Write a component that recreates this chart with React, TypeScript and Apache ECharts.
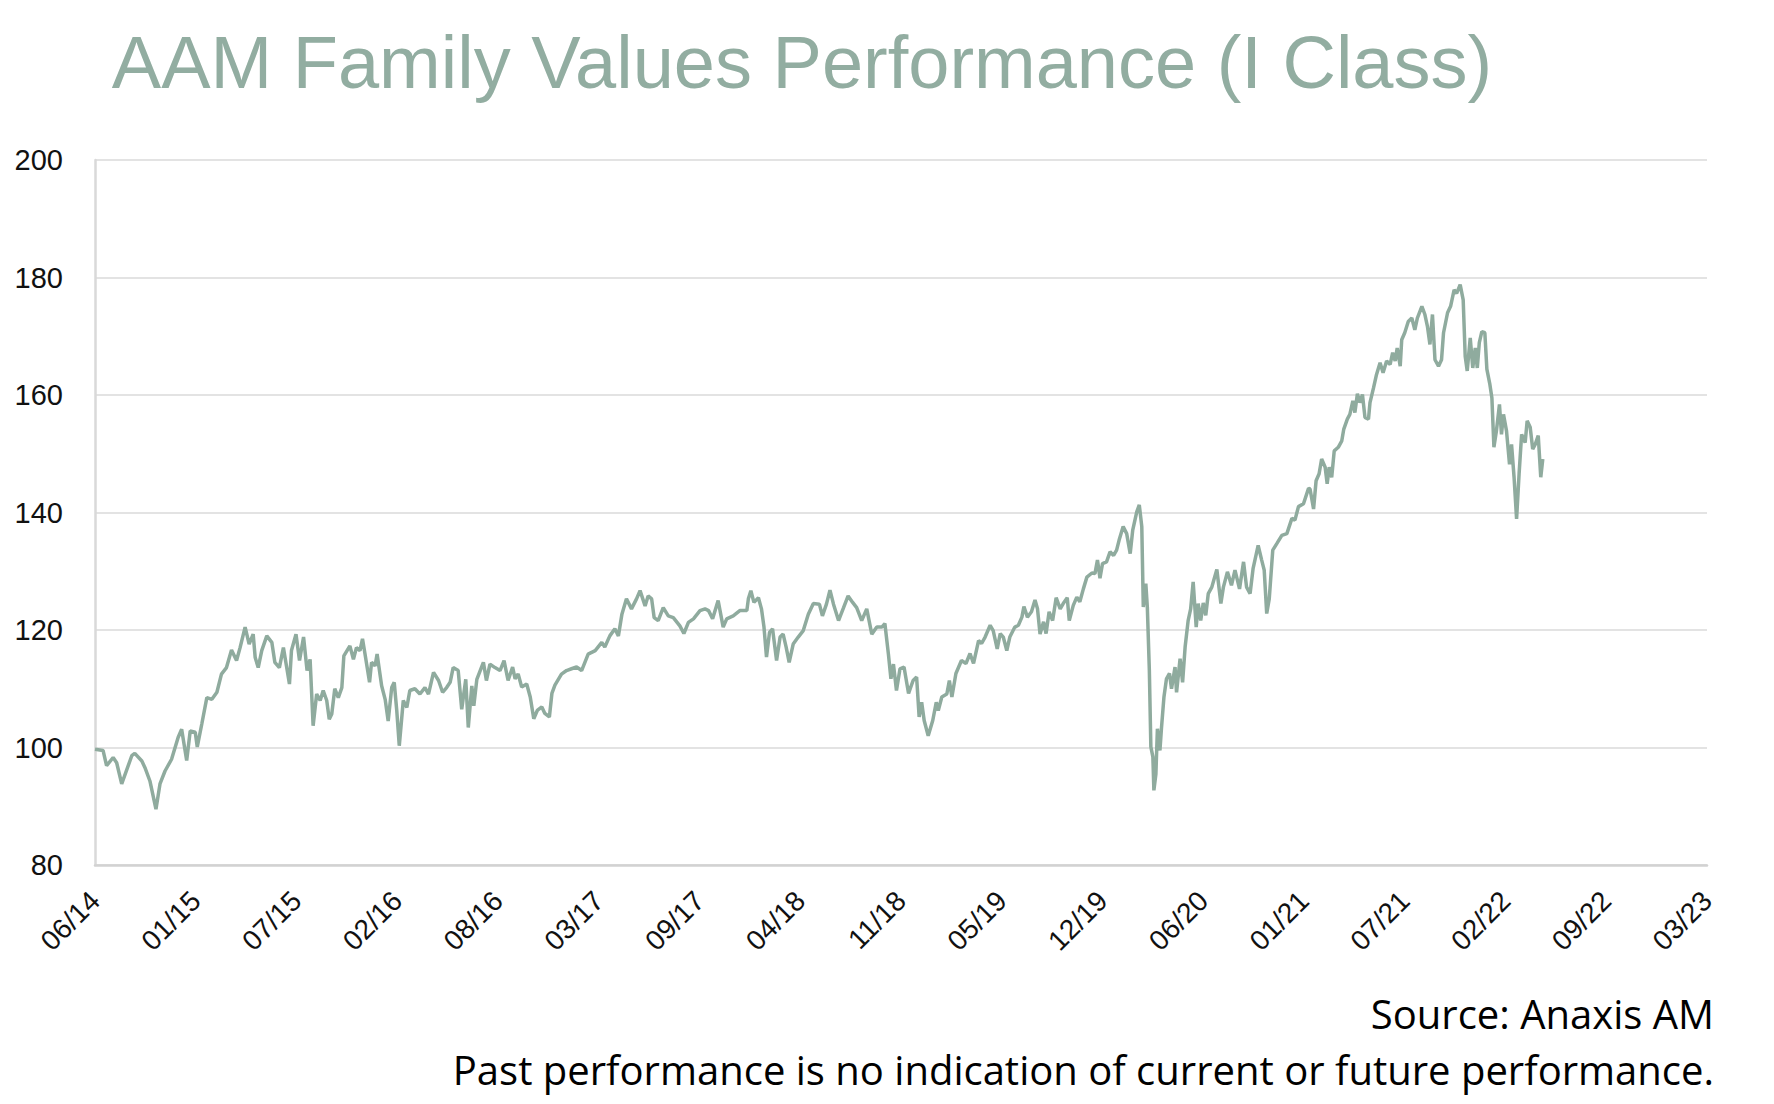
import React, { useEffect, useRef } from "react";
import * as echarts from "echarts";

// x values are days elapsed since the first observation (16 June 2014)
const START_UTC = Date.UTC(2014, 5, 16);
const X_MIN = 0;
const X_MAX = 3200;
const X_STEP = 200;
const Y_MIN = 80;
const Y_MAX = 200;
const Y_STEP = 20;

const titleText = "AAM Family Values Performance (I Class)";
const sourceText = "Source: Anaxis AM";
const disclaimerText = "Past performance is no indication of current or future performance.";

const nav2014to2016: [number, number][] = [
  [0, 99.7], [16, 99.5], [23, 96.9], [36, 98.3], [43, 97.4], [53, 93.8], [73, 98.6], [79, 99.0], [93, 97.7], [99, 96.6],
  [109, 94.3], [121, 89.5], [129, 93.8], [139, 96.0], [152, 98.0], [165, 101.7], [172, 103.1], [182, 97.8], [189, 102.8], [199, 102.6],
  [203, 100.1], [212, 104.0], [222, 108.5], [232, 108.2], [242, 109.4], [251, 112.5], [261, 113.6], [271, 116.6], [281, 114.8], [288, 117.0],
  [298, 120.5], [306, 117.6], [314, 119.3], [318, 115.3], [324, 113.6], [331, 116.5], [341, 119.0], [351, 117.9], [357, 114.5], [366, 113.6],
  [374, 117.0], [380, 113.9], [386, 110.8], [390, 116.5], [399, 119.3], [406, 114.8], [414, 118.8], [421, 113.1], [427, 115.0], [433, 103.7],
  [440, 109.1], [447, 108.0], [453, 109.7], [460, 108.0], [465, 104.8], [470, 105.7], [476, 110.0], [483, 108.5], [490, 110.2], [494, 115.6],
  [506, 117.3], [513, 115.0], [519, 117.0], [526, 116.5], [531, 118.5], [536, 115.9], [545, 111.1], [549, 114.5], [556, 113.9], [560, 115.9],
  [569, 110.5], [576, 108.2], [582, 104.5], [589, 110.2], [594, 111.1], [599, 106.3], [604, 100.3], [612, 108.0], [619, 106.8], [625, 109.7],
  [635, 110.0], [645, 109.1], [655, 110.2], [662, 109.1], [672, 112.8], [682, 111.4], [690, 109.4], [698, 110.2], [705, 111.1], [711, 113.6],
  [721, 113.1], [728, 106.5], [736, 111.6], [741, 103.4], [748, 110.5], [752, 107.1], [758, 111.6], [771, 114.5], [777, 111.4], [784, 114.2],
  [794, 113.6],
];

const nav2016to2018: [number, number][] = [
  [804, 113.1], [812, 114.8], [820, 111.4], [829, 113.7], [834, 111.7], [840, 112.5], [847, 110.3], [857, 110.8], [864, 108.6], [871, 104.9],
  [878, 106.3], [887, 106.9], [893, 105.8], [902, 105.2], [907, 109.2], [913, 110.6], [926, 112.5], [936, 113.1], [946, 113.4], [956, 113.7],
  [966, 113.1], [979, 115.9], [993, 116.5], [1006, 117.9], [1012, 117.1], [1022, 119.0], [1032, 120.2], [1039, 119.0], [1046, 122.7], [1055, 125.3],
  [1065, 123.6], [1075, 125.3], [1082, 126.7], [1092, 124.1], [1098, 125.8], [1105, 125.3], [1110, 122.1], [1118, 121.6], [1128, 123.8], [1138, 122.4],
  [1148, 122.1], [1161, 120.7], [1169, 119.4], [1178, 121.3], [1188, 121.9], [1201, 123.3], [1211, 123.6], [1218, 123.3], [1226, 121.9], [1237, 125.0],
  [1247, 120.5], [1254, 121.9], [1267, 122.4], [1280, 123.3], [1294, 123.3], [1297, 125.3], [1302, 126.7], [1308, 124.7], [1317, 125.5], [1323, 123.6],
  [1328, 120.5], [1333, 115.4], [1339, 119.6], [1345, 120.2], [1353, 114.8], [1360, 118.8], [1366, 119.3], [1372, 117.1], [1378, 114.5], [1386, 117.6],
  [1396, 118.8], [1406, 119.9], [1416, 122.7], [1426, 124.5], [1438, 124.4], [1444, 122.4], [1452, 124.4], [1459, 126.8], [1466, 124.4], [1476, 121.6],
  [1486, 123.8], [1495, 125.8], [1504, 124.7], [1512, 123.8], [1522, 121.6], [1532, 123.6], [1542, 119.3], [1552, 120.5], [1562, 120.5], [1568, 121.1],
  [1575, 115.9], [1580, 111.7], [1585, 114.2], [1591, 109.7], [1598, 113.4], [1606, 113.7], [1615, 109.2], [1624, 111.4], [1631, 112.0], [1636, 105.2],
];

const nav2018to2020: [number, number][] = [
  [1641, 107.7], [1646, 104.6], [1654, 102.0], [1663, 104.6], [1670, 107.7], [1674, 106.3], [1681, 108.6], [1691, 109.1], [1696, 111.4], [1701, 108.6],
  [1709, 112.6], [1720, 114.8], [1729, 114.3], [1737, 116.0], [1744, 114.3], [1754, 118.2], [1760, 117.7], [1767, 118.8], [1777, 120.8], [1783, 119.9],
  [1791, 116.8], [1797, 119.4], [1803, 118.8], [1810, 116.5], [1816, 118.8], [1826, 120.5], [1833, 120.8], [1840, 122.2], [1844, 124.0], [1851, 122.2],
  [1859, 123.1], [1866, 125.1], [1871, 123.6], [1876, 119.3], [1883, 121.4], [1888, 119.4], [1894, 123.1], [1901, 121.6], [1908, 125.5], [1916, 123.6],
  [1922, 124.5], [1930, 125.5], [1934, 121.6], [1942, 124.2], [1949, 125.6], [1955, 124.8], [1962, 127.0], [1969, 129.0], [1979, 129.7], [1985, 129.6],
  [1990, 131.9], [1995, 128.8], [2000, 131.3], [2008, 131.6], [2015, 133.3], [2022, 132.7], [2028, 133.6], [2033, 135.3], [2041, 137.6], [2048, 136.4],
  [2055, 133.0], [2060, 137.0], [2068, 140.1], [2073, 141.3], [2078, 137.6], [2081, 123.9], [2086, 127.9], [2089, 123.9], [2093, 113.1], [2096, 100.1],
  [2100, 98.4], [2102, 92.7], [2106, 95.5], [2109, 103.2], [2114, 99.5], [2117, 103.2], [2122, 108.6], [2127, 111.7], [2133, 112.6], [2137, 110.0],
  [2144, 113.7], [2147, 109.4], [2154, 115.1], [2159, 111.1], [2164, 117.1], [2170, 121.6], [2175, 123.6], [2180, 128.2], [2186, 120.5], [2190, 124.5],
  [2195, 121.6], [2200, 124.6], [2205, 122.5], [2210, 126.2], [2217, 127.3], [2221, 128.5], [2227, 130.3], [2235, 124.5], [2240, 127.3], [2248, 129.9],
  [2256, 127.6], [2263, 130.2], [2272, 127.0], [2280, 131.6], [2286, 127.3], [2293, 126.2], [2299, 130.5], [2309, 134.4], [2316, 131.9], [2321, 130.2],
  [2326, 122.8], [2331, 125.3], [2338, 133.6], [2346, 134.7], [2356, 136.1], [2366, 136.4], [2376, 139.0], [2382, 138.7], [2389, 141.0], [2399, 141.5],
  [2409, 144.1],
];

const nav2020to2022: [number, number][] = [
  [2412, 144.0], [2419, 140.6], [2424, 145.4], [2430, 146.6], [2435, 149.1], [2442, 147.7], [2446, 144.9], [2450, 147.7], [2455, 146.0], [2460, 150.5],
  [2468, 151.1], [2475, 152.2], [2479, 154.2], [2486, 155.9], [2491, 156.7], [2497, 159.0], [2501, 157.0], [2506, 160.2], [2511, 158.7], [2516, 160.1],
  [2521, 156.2], [2528, 155.9], [2531, 158.7], [2538, 161.2], [2544, 163.5], [2551, 165.5], [2557, 163.8], [2564, 165.8], [2571, 165.2], [2576, 167.2],
  [2581, 165.8], [2585, 168.0], [2591, 164.9], [2594, 169.4], [2600, 170.6], [2607, 172.5], [2614, 173.1], [2620, 171.1], [2625, 173.1], [2634, 175.1],
  [2640, 173.7], [2645, 171.7], [2650, 168.6], [2655, 173.7], [2660, 166.0], [2667, 164.9], [2673, 166.0], [2677, 170.6], [2685, 174.0], [2691, 175.1],
  [2698, 177.9], [2703, 177.3], [2710, 178.8], [2716, 176.2], [2720, 166.6], [2724, 164.1], [2730, 169.7], [2735, 164.6], [2740, 168.0], [2744, 164.6],
  [2748, 168.9], [2753, 170.8], [2759, 170.6], [2763, 164.4], [2769, 161.8], [2773, 159.5], [2777, 151.1], [2782, 153.9], [2788, 158.4], [2792, 153.3],
  [2796, 156.7], [2802, 153.9], [2808, 148.2], [2812, 151.6], [2817, 146.0], [2822, 138.9], [2827, 146.6], [2832, 153.3], [2839, 151.9], [2843, 155.6],
  [2849, 154.5], [2854, 150.8], [2859, 151.6], [2865, 153.1], [2870, 146.0], [2874, 149.1],
];

function dayToLabel(d: number): string {
  const dt = new Date(START_UTC + d * 86400000);
  const m = String(dt.getUTCMonth() + 1).padStart(2, "0");
  const y = String(dt.getUTCFullYear() % 100).padStart(2, "0");
  return `${m}/${y}`;
}

const LINE_COLOR = "#8fab9e";
const TITLE_COLOR = "#92ada1";

export default function App() {
  const ref = useRef<HTMLDivElement>(null);

  useEffect(() => {
    document.body.style.margin = "0";
    if (!ref.current) return;
    const chart = echarts.init(ref.current, undefined, { renderer: "svg" });
    const series = [...nav2014to2016, ...nav2016to2018, ...nav2018to2020, ...nav2020to2022];

    chart.setOption({
      animation: false,
      backgroundColor: "#ffffff",
      grid: { left: 95, right: 67, top: 160, bottom: 239, containLabel: false },
      xAxis: {
        type: "value",
        min: X_MIN,
        max: X_MAX,
        interval: X_STEP,
        axisLine: { show: true, lineStyle: { color: "#d2d2d2", width: 2.5 } },
        axisTick: { show: false },
        splitLine: { show: false },
        axisLabel: {
          rotate: 45,
          margin: 31,
          fontSize: 28,
          color: "#111111",
          fontFamily: "Liberation Sans",
          showMinLabel: true,
          showMaxLabel: true,
          formatter: (v: number) => dayToLabel(v),
        },
      },
      yAxis: {
        type: "value",
        min: Y_MIN,
        max: Y_MAX,
        interval: Y_STEP,
        axisLine: { show: true, lineStyle: { color: "#d9d9d9", width: 2.5 } },
        axisTick: { show: false },
        splitLine: { show: true, lineStyle: { color: "#e3e3e3", width: 2 } },
        axisLabel: {
          margin: 32,
          fontSize: 29,
          color: "#111111",
          fontFamily: "Liberation Sans",
        },
      },
      series: [
        {
          type: "line",
          data: series,
          showSymbol: false,
          symbol: "none",
          lineStyle: { color: LINE_COLOR, width: 3.5 },
          emphasis: { disabled: true },
          silent: true,
        },
      ],
      graphic: [
        {
          type: "text",
          x: 802,
          y: 62,
          style: {
            text: titleText,
            fill: TITLE_COLOR,
            font: "74px 'Liberation Sans'",
            textAlign: "center",
            textVerticalAlign: "middle",
          },
        },
        {
          type: "text",
          x: 1714,
          y: 1013,
          style: {
            text: sourceText,
            fill: "#000000",
            font: "40px 'Open Sans'",
            textAlign: "right",
            textVerticalAlign: "middle",
          },
        },
        {
          type: "text",
          x: 1714,
          y: 1069,
          style: {
            text: disclaimerText,
            fill: "#000000",
            font: "40px 'Open Sans'",
            textAlign: "right",
            textVerticalAlign: "middle",
          },
        },
      ],
    });

    return () => {
      chart.dispose();
    };
  }, []);

  return <div ref={ref} style={{ width: 1774, height: 1104 }} />;
}
